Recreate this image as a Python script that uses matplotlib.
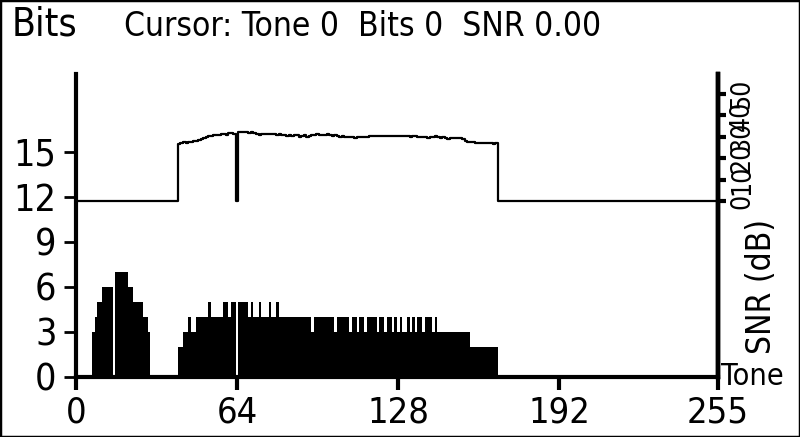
import numpy as np
import matplotlib.pyplot as plt

plt.rcParams['font.family'] = ['DejaVu Sans']
plt.rcParams['font.stretch'] = 'condensed'

# tones 0..255, bits loaded per tone (two active blocks)
n_tones = 256
block1_start = 7
block1_bits = [3, 4, 5, 5, 6, 6, 6, 6, 0, 7, 7, 7, 7, 7, 6, 6, 5, 5, 5, 5, 4, 4, 3]

block2_start = 41
block2_bits = [2, 2, 3, 3, 4, 3, 3, 4, 4, 4,
               4, 4, 5, 4, 4, 4, 4, 4, 5, 5,
               4, 5, 5, 0, 5, 5, 5, 5, 4, 5,
               4, 4, 5, 4, 4, 4, 5, 4, 4, 5,
               4, 4, 4, 4, 4, 4, 4, 4, 4, 4,
               4, 4, 4, 3, 4, 4, 4, 4, 4, 4,
               4, 4, 3, 4, 4, 4, 4, 4, 3, 4,
               4, 3, 4, 4, 3, 4, 4, 4, 4, 3,
               4, 4, 3, 4, 4, 3, 4, 3, 4, 3,
               3, 4, 3, 4, 3, 4, 4, 3, 4, 4,
               4, 3, 4, 3, 3, 3, 3, 3, 3, 3,
               3, 3, 3, 3, 3, 3, 2, 2, 2, 2,
               2, 2, 2, 2, 2, 2, 2]

# SNR (dB) per tone in block 2
block2_snr = [26.8, 27.0, 27.4, 27.2, 27.6, 27.4, 27.8, 28.2, 28.6, 29.0,
              29.4, 29.8, 30.2, 30.4, 30.8, 31.0, 30.8, 31.2, 31.4, 31.0,
              31.6, 31.8, 31.4, 0.0, 32.0, 32.0, 32.0, 32.0, 31.8, 32.0,
              31.8, 31.2, 30.8, 31.2, 31.4, 31.2, 31.4, 31.4, 31.2, 31.0,
              31.2, 31.0, 30.6, 30.4, 30.8, 30.4, 31.0, 30.6, 30.0, 30.2,
              30.6, 30.0, 30.4, 30.8, 31.0, 31.2, 31.0, 30.8, 31.0, 31.2,
              30.6, 30.4, 30.6, 30.4, 30.0, 30.2, 29.8, 30.0, 29.8, 30.0,
              29.6, 29.8, 30.0, 29.8, 30.0, 29.8, 30.2, 30.2, 30.2, 30.2,
              30.2, 30.2, 30.2, 30.2, 30.2, 30.2, 30.2, 30.2, 30.2, 30.2,
              30.2, 30.2, 30.0, 30.2, 30.2, 29.8, 30.0, 29.8, 30.0, 29.6,
              29.8, 30.0, 30.2, 30.0, 29.6, 29.8, 29.4, 29.0, 29.4, 29.2,
              29.4, 29.6, 29.4, 28.8, 28.0, 27.6, 27.4, 27.4, 27.0, 27.2,
              27.2, 27.0, 27.2, 27.2, 27.0, 26.8, 27.2]

x_ticks = [0, 64, 128, 192, 255]
bit_ticks = [0, 3, 6, 9, 12, 15]
snr_ticks = [0, 10, 20, 30, 40, 50]

tones = np.arange(n_tones)
bits = np.zeros(n_tones)
bits[block1_start:block1_start + len(block1_bits)] = block1_bits
bits[block2_start:block2_start + len(block2_bits)] = block2_bits
snr = np.zeros(n_tones)
snr[block2_start:block2_start + len(block2_snr)] = block2_snr

fig = plt.figure(figsize=(8, 4.37), dpi=100)
ax = fig.add_axes([0.095, 0.1373, 0.8025, 0.6934])

# bits as filled steps
ax.stairs(bits, np.arange(n_tones + 1) - 0.5, fill=True, color='black', lw=0)
ax.set_xlim(0, 255)
ax.set_ylim(0, 20.2)

ax.spines['top'].set_visible(False)
ax.spines['left'].set_linewidth(3.0)
ax.spines['bottom'].set_linewidth(3.0)
ax.spines['right'].set_linewidth(3.2)

ax.set_xticks(x_ticks)
ax.set_yticks(bit_ticks)
ax.tick_params(axis='x', direction='out', length=9, width=3, labelsize=26, pad=4)
ax.tick_params(axis='y', direction='out', length=9, width=2, labelsize=27, pad=5)

# SNR on right axis, 0 dB sitting just under the 12-bit line
ax2 = ax.twinx()
ax2.plot(tones, snr, color='black', lw=1.6, drawstyle='steps-mid')
ax2.set_ylim(-82.2, 59.3)
ax2.set_yticks(snr_ticks)
ax2.tick_params(axis='y', direction='out', length=6, width=3, labelsize=19, pad=2)
for lab in ax2.get_yticklabels():
    lab.set_rotation(90)
    lab.set_va('center')
for s in ['top', 'left', 'bottom']:
    ax2.spines[s].set_visible(False)
ax2.spines['right'].set_linewidth(3.2)

ax.text(1.004, 0.0, 'Tone', transform=ax.transAxes, ha='left', va='center', fontsize=22)
fig.text(0.952, 0.345, 'SNR (dB)', rotation=90, ha='center', va='center', fontsize=24)

fig.text(0.014, 0.988, 'Bits', ha='left', va='top', fontsize=28)
fig.text(0.155, 0.978, 'Cursor: Tone 0  Bits 0  SNR 0.00', ha='left', va='top', fontsize=24)

# thin frame around the whole picture
fig.patches.append(plt.Rectangle((0, 0), 1, 1, transform=fig.transFigure,
                                 fill=False, lw=2.5, edgecolor='black'))

fig.savefig('out.png', dpi=100)
